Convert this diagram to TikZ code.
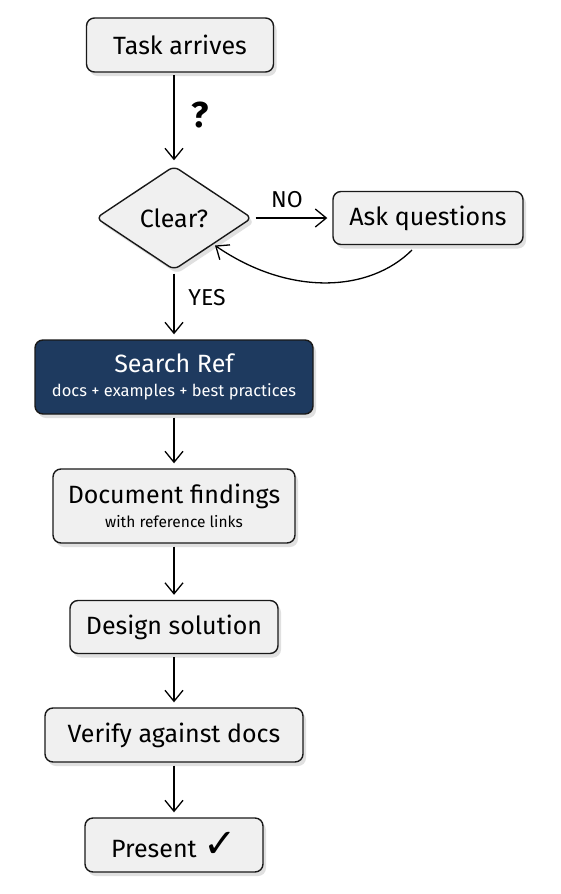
\documentclass[tikz,border=0pt]{standalone}
\usepackage{fontspec}
\setmainfont{Fira Sans}
\newfontfamily\symfont{DejaVu Sans}
\usetikzlibrary{shapes.geometric,arrows.meta,shadows}
\definecolor{boxfill}{HTML}{F0F0F0}
\definecolor{navy}{HTML}{1E3A5F}
\begin{document}
\begin{tikzpicture}[x=1pt,y=-1pt,
  proc/.style={draw=black!90, line width=1.4pt, rounded corners=8pt, fill=boxfill,
    drop shadow={shadow xshift=3pt, shadow yshift=-4pt, fill=black!12, opacity=1},
    font=\fontsize{25}{28}\selectfont, align=center, inner sep=0pt},
  dark/.style={proc, fill=navy, text=white},
  dec/.style={draw=black!90, line width=1.4pt, shape=diamond, rounded corners=6pt, fill=boxfill,
    drop shadow={shadow xshift=3pt, shadow yshift=-4pt, fill=black!12, opacity=1},
    font=\fontsize{25}{28}\selectfont, inner sep=0pt},
  conn/.style={line width=1.3pt, shorten <=3pt, shorten >=5pt,
    -{Straight Barb[length=11pt,width=18pt,line width=1.3pt]}},
  lbl/.style={font=\fontsize{23}{26}\selectfont}
]
\useasboundingbox[fill=white] (0,0) rectangle (561,894);

\node[proc, minimum width=187pt, minimum height=54pt] (task) at (180,45) {Task arrives};
\node[dec, minimum width=156pt, minimum height=104pt] (clear) at (174,218) {Clear?};
\node[proc, minimum width=190pt, minimum height=53pt] (ask) at (428,218) {Ask questions};
\node[dark, minimum width=278pt, minimum height=74pt] (search) at (174,377)
  {Search Ref\\[-4pt]{\fontsize{16.5}{19}\selectfont docs + examples + best practices}};
\node[proc, minimum width=242pt, minimum height=74pt] (doc) at (174,506)
  {Document findings\\[-4pt]{\fontsize{15.5}{18}\selectfont with reference links}};
\node[proc, minimum width=208pt, minimum height=53pt] (design) at (174,627) {Design solution};
\node[proc, minimum width=258pt, minimum height=54pt] (verify) at (174,735) {Verify against docs};
\node[proc, minimum width=178pt, minimum height=54pt] (present) at (174,845)
  {Present {\symfont\fontsize{40}{40}\selectfont ✓}};

\node[font=\bfseries\fontsize{36}{38}\selectfont] (q) at (200,115) {?};
\node[lbl] (no) at (287,200) {NO};
\node[lbl] (yes) at (207,298) {YES};

\coordinate (r1) at (412,250);
\coordinate (t1) at (174,72);
\draw[conn] (t1) -- (clear.north);
\draw[conn] (clear.east) -- (ask.west);
\draw[conn, shorten <=0pt, shorten >=2pt] (r1) .. controls (370,292) and (290,297) .. (clear.south east);
\draw[conn] (clear.south) -- (search.north);
\draw[conn] (search.south) -- (doc.north);
\draw[conn] (doc.south) -- (design.north);
\draw[conn] (design.south) -- (verify.north);
\draw[conn] (verify.south) -- (present.north);
\end{tikzpicture}
\end{document}
